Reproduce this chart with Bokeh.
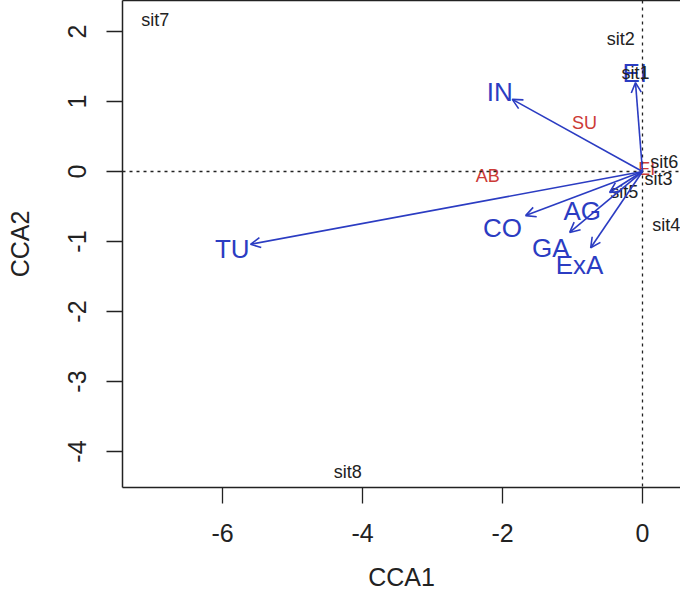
from bokeh.plotting import figure
from bokeh.models import (Range1d, FixedTicker, LinearAxis, Arrow, OpenHead,
                          ColumnDataSource, Span)
from bokeh.core.properties import value
from bokeh.embed import file_html
from bokeh.resources import INLINE

# ---- data ----
site_names = ["sit1", "sit2", "sit3", "sit4", "sit5", "sit6", "sit7", "sit8"]
site_x = [-0.10, -0.31, 0.23, 0.34, -0.26, 0.31, -6.96, -4.21]
site_y = [1.41, 1.89, -0.10, -0.76, -0.29, 0.13, 2.17, -4.29]

species_names = ["AB", "SU", "EI"]
species_x = [-2.21, -0.83, 0.06]
species_y = [-0.07, 0.69, 0.03]

env_names = ["IN", "TU", "CO", "AG", "GA", "ExA", "EI"]
arrow_x = [-1.86, -5.60, -1.67, -0.47, -1.04, -0.74, -0.10]
arrow_y = [1.03, -1.04, -0.63, -0.30, -0.87, -1.09, 1.27]
label_x = [-2.04, -5.86, -2.00, -0.86, -1.31, -0.90, -0.11]
label_y = [1.13, -1.11, -0.80, -0.56, -1.09, -1.33, 1.41]

x_ticks = [-6, -4, -2, 0]
y_ticks = [-4, -3, -2, -1, 0, 1, 2]

FONT = "Liberation Sans"
BLUE = "#2b3cc2"
RED = "#cc3a36"
INK = "#222222"

p = figure(width=680, height=599, output_backend="svg", toolbar_location=None,
           x_range=Range1d(-7.4286, 0.543), y_range=Range1d(-4.514, 2.443),
           min_border_left=122, min_border_right=0, min_border_top=0,
           min_border_bottom=112)
p.outline_line_color = None
p.xgrid.visible = False
p.ygrid.visible = False
p.background_fill_color = "white"

# axes
for ax, ticks in ((p.xaxis[0], x_ticks), (p.yaxis[0], y_ticks)):
    ax.ticker = FixedTicker(ticks=ticks)
    ax.major_label_overrides = {t: str(t) for t in ticks}
    ax.minor_tick_line_color = None
    ax.major_tick_out = 16
    ax.major_tick_in = 0
    ax.major_tick_line_color = INK
    ax.major_tick_line_width = 1.3
    ax.axis_line_color = INK
    ax.axis_line_width = 1.5
    ax.major_label_text_font = FONT
    ax.major_label_text_font_size = "25px"
    ax.major_label_text_color = INK
    ax.axis_label_text_font = FONT
    ax.axis_label_text_font_size = "25px"
    ax.axis_label_text_font_style = "normal"
    ax.axis_label_text_color = INK

p.xaxis.axis_label = "CCA1"
p.yaxis.axis_label = "CCA2"
p.xaxis.major_label_standoff = 20
p.xaxis.axis_label_standoff = 18
p.yaxis.major_label_orientation = "vertical"
p.yaxis.major_label_standoff = 20
p.yaxis.axis_label_standoff = 32

top = LinearAxis(ticker=FixedTicker(ticks=[]), major_tick_out=0, major_tick_in=0,
                 minor_tick_out=0, minor_tick_in=0, major_label_standoff=0,
                 major_label_text_font_size="0px", axis_line_color=INK,
                 axis_line_width=1.5)
p.add_layout(top, "above")

# dotted zero lines
p.add_layout(Span(location=0, dimension="width", line_color=INK,
                  line_dash="3 4", line_width=1.3))
p.add_layout(Span(location=0, dimension="height", line_color=INK,
                  line_dash="3 4", line_width=1.3))

# biplot arrows
arr_src = ColumnDataSource(dict(x0=[0] * len(arrow_x), y0=[0] * len(arrow_y),
                                x1=arrow_x, y1=arrow_y))
p.add_layout(Arrow(x_start="x0", y_start="y0", x_end="x1", y_end="y1",
                   source=arr_src, line_color=BLUE, line_width=1.6,
                   end=OpenHead(size=10, line_color=BLUE, line_width=1.6)))

env_src = ColumnDataSource(dict(x=label_x, y=label_y, t=env_names))
p.text("x", "y", text="t", source=env_src, text_color=BLUE,
       text_font=value(FONT), text_font_size="26px",
       text_align="center", text_baseline="middle")

sp_src = ColumnDataSource(dict(x=species_x, y=species_y, t=species_names))
p.text("x", "y", text="t", source=sp_src, text_color=RED,
       text_font=value(FONT), text_font_size="18px",
       text_align="center", text_baseline="middle")

site_src = ColumnDataSource(dict(x=site_x, y=site_y, t=site_names))
p.text("x", "y", text="t", source=site_src, text_color=INK,
       text_font=value(FONT), text_font_size="18px",
       text_align="center", text_baseline="middle")

open("out.html", "w").write(file_html(p, INLINE))
